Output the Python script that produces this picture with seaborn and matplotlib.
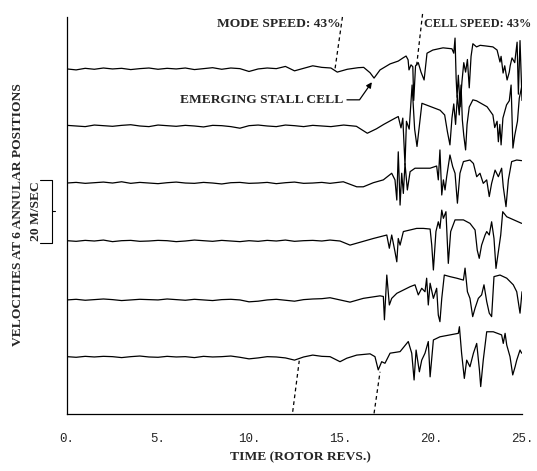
import matplotlib
matplotlib.use("Agg")
import matplotlib.pyplot as plt
import matplotlib.transforms as mtransforms
import pandas as pd
import seaborn as sns

# sample times of the quiet (pre-stall) part, rotor revs
quiet_t = [0.0, 0.5, 1.0, 1.5, 2.0, 2.5, 3.0, 3.5, 4.0, 4.5, 5.0, 5.5, 6.0, 6.5,
           7.0, 7.5, 8.0, 8.5, 9.0, 9.5, 10.0, 10.5, 11.0, 11.5, 12.0, 12.5,
           13.0, 13.5, 14.0]

# velocity deviation (m/s) from each probe's mean
pos1_quiet = [0.0, -0.3, 0.2, -0.1, 0.3, 0.0, 0.2, -0.2, 0.1, 0.3, -0.1, 0.2, 0.0, 0.3,
              -0.2, 0.1, 0.4, -0.1, 0.3, 0.1, -0.8, 0.0, 0.3, 0.1, 0.8, -0.6, 0.2, 1.0, 0.5]
pos2_quiet = [0.2, 0.0, -0.2, 0.3, 0.1, -0.1, 0.2, 0.4, 0.0, -0.2, 0.3, 0.1, -0.1, 0.2,
              0.0, -0.3, 0.2, 0.1, -0.2, -0.7, 0.1, 0.3, 0.0, -0.2, 0.3, 0.1, -0.2, 0.2, 0.0]
pos3_quiet = [0.0, 0.2, -0.1, 0.1, 0.3, 0.0, 0.4, -0.1, 0.2, 0.0, -0.2, 0.1, 0.3, 0.0,
              -0.1, 0.2, 0.0, -0.3, 0.1, 0.2, -0.1, 0.0, 0.2, -0.2, 0.1, 0.3, -0.1, 0.0, 0.2]
pos4_quiet = [0.1, -0.1, 0.2, 0.0, 0.3, -0.2, 0.1, 0.2, -0.1, 0.0, 0.2, 0.1, -0.2, 0.0,
              0.3, 0.1, -0.1, 0.2, 0.0, -0.2, 0.1, -0.1, 0.2, 0.0, 0.3, -0.1, 0.1, 0.2, 0.0]
pos5_quiet = [0.0, 0.2, -0.1, 0.1, 0.3, 0.1, -0.2, 0.0, 0.2, 0.1, 0.0, 0.3, 0.1, -0.1,
              0.2, 0.0, -0.2, 0.1, 0.2, 0.0, -0.6, -0.4, 0.0, 0.2, -0.1, -0.4, 0.1, 0.3, 0.4]
pos6_quiet = [0.1, -0.1, 0.2, 0.0, 0.2, 0.1, -0.2, 0.1, 0.3, 0.0, -0.1, 0.2, 0.0, 0.1,
              -0.2, 0.2, 0.0, 0.1, 0.3, -0.1, -0.6, -0.3, 0.1, 0.0, -0.3, -1.0, 0.0, 0.6, 0.2]

# (time, velocity deviation) through stall inception
pos1_stall = [(14.5, 0.3), (14.85, -1.0), (15.4, -0.1), (16.0, 0.4), (16.3, 0.5), (16.65, -1.2),
              (16.87, -2.9), (17.2, -0.3), (17.75, 1.6), (18.2, 2.5), (18.46, 3.5), (18.63, 4.1),
              (18.74, 2.9), (18.79, -0.3), (18.9, 1.3), (19.0, 0.7), (19.05, -10.0), (19.15, 1.0),
              (19.3, 2.0), (19.45, -1.0), (19.62, -3.5), (19.78, 5.0), (20.1, 6.0), (20.66, 6.7),
              (21.15, 6.4), (21.25, 5.0), (21.32, 9.8), (21.38, -3.0), (21.43, -9.0), (21.5, -2.0),
              (21.6, -12.0), (21.7, -4.0), (21.8, 2.0), (21.9, -1.0), (22.0, 3.0), (22.1, -6.0),
              (22.2, 4.0), (22.3, 8.0), (22.5, 7.0), (22.7, 7.5), (23.0, 7.3), (23.4, 7.0),
              (23.63, 6.0), (23.79, 2.2), (23.85, 4.0), (23.96, -1.3), (24.05, 1.0), (24.18, -3.5),
              (24.3, -1.0), (24.35, 1.0), (24.45, 3.5), (24.6, 2.0), (24.73, 8.5), (24.8, -8.0),
              (24.89, 9.0), (25.0, -10.0)]
pos2_stall = [(14.5, -0.2), (15.2, 0.3), (15.9, -0.1), (16.5, -2.3), (17.0, -0.9), (17.4, 0.5),
              (18.0, 2.4), (18.2, 3.0), (18.35, -0.6), (18.45, 2.5), (18.57, -12.4), (18.65, 1.5),
              (18.8, -1.0), (18.96, 13.0), (19.1, -1.0), (19.23, -6.5), (19.5, 7.2), (20.0, 6.1),
              (20.5, 5.0), (20.75, 3.5), (20.9, -1.8), (21.04, -6.0), (21.15, 2.5), (21.25, 7.0),
              (21.35, 0.5), (21.45, 9.8), (21.55, 3.5), (21.65, 13.0), (21.72, 2.0), (21.8, -3.0),
              (21.9, -7.6), (21.98, 0.5), (22.1, 6.0), (22.3, 8.3), (22.5, 8.0), (23.08, 6.1),
              (23.4, 3.5), (23.5, -0.5), (23.63, 1.5), (23.7, -5.0), (23.78, 0.5), (23.85, -6.0),
              (23.95, 2.5), (24.15, 6.7), (24.3, 8.0), (24.4, 13.0), (24.5, -7.0), (24.6, -3.0),
              (24.75, 1.5), (24.85, 8.8), (25.0, 13.0)]
pos3_stall = [(14.45, -0.1), (15.18, 0.4), (15.92, -1.2), (16.28, -1.2), (16.83, 0.1), (17.38, 1.0),
              (17.84, 3.1), (18.02, 1.0), (18.12, -5.4), (18.2, 9.9), (18.3, -7.0), (18.39, 3.1),
              (18.48, -3.3), (18.57, 6.2), (18.7, -2.2), (18.85, 3.6), (19.12, 4.7), (19.95, 4.7),
              (20.31, 5.4), (20.4, 1.0), (20.49, 10.5), (20.59, -3.8), (20.68, 1.0), (20.77, -2.2),
              (20.86, 2.0), (21.04, 8.9), (21.19, 5.2), (21.32, 3.1), (21.45, -6.4), (21.59, 3.1),
              (21.78, 6.8), (22.14, 7.3), (22.33, 6.2), (22.51, 2.0), (22.69, 3.1), (22.87, -0.1),
              (23.06, 1.0), (23.2, -4.3), (23.33, -0.1), (23.52, 4.1), (23.7, 2.0), (23.88, 4.7),
              (23.97, -1.2), (24.12, -7.5), (24.25, 1.0), (24.43, 6.8), (24.71, 7.3), (24.98, 7.1)]
pos4_stall = [(14.45, 0.3), (15.0, 0.0), (15.55, -1.3), (16.1, -0.4), (16.83, 0.8), (17.57, 1.9),
              (17.71, -2.3), (17.84, 1.9), (18.02, -3.4), (18.12, -6.6), (18.2, 0.8), (18.3, -1.3),
              (18.48, 3.0), (18.85, 3.5), (19.21, 4.0), (19.58, 4.0), (19.95, 3.8), (20.04, -1.3),
              (20.13, -9.2), (20.27, 3.0), (20.4, 6.1), (20.49, 4.0), (20.59, 9.8), (20.68, 7.2),
              (20.82, 9.3), (20.95, -7.1), (21.08, 3.0), (21.32, 6.7), (21.78, 6.7), (22.14, 5.6),
              (22.42, 3.5), (22.54, -2.9), (22.65, -5.5), (22.78, -1.3), (22.97, 1.9), (23.06, 3.0),
              (23.2, 1.9), (23.33, 6.1), (23.46, 0.8), (23.57, -8.7), (23.7, -3.4), (23.83, 1.9),
              (23.94, 9.3), (24.16, 7.7), (24.98, 5.6)]
pos5_stall = [(14.45, 0.7), (15.0, 0.0), (15.55, -0.7), (16.28, 0.5), (17.2, 1.3), (17.38, 1.1),
              (17.44, -6.3), (17.57, 7.9), (17.71, -1.6), (17.84, 0.5), (18.12, 2.1), (18.85, 4.2),
              (19.12, 4.8), (19.3, 1.6), (19.49, 3.7), (19.67, 2.6), (19.76, 6.9), (19.85, -1.6),
              (19.95, 5.3), (20.13, 0.5), (20.31, 3.7), (20.4, -4.8), (20.49, -6.9), (20.59, 0.5),
              (20.73, 7.9), (21.04, 7.4), (21.41, 6.9), (21.78, 6.3), (21.87, 10.1), (22.0, 2.6),
              (22.14, 0.5), (22.29, -5.3), (22.42, -2.6), (22.6, 0.5), (22.78, 1.6), (22.91, 4.8),
              (23.06, -0.5), (23.2, -4.2), (23.33, -5.3), (23.46, 7.4), (23.79, 7.9), (24.16, 6.9),
              (24.52, 4.8), (24.71, 2.6), (24.89, -4.2), (25.0, 2.6)]
pos6_stall = [(14.45, 0.1), (15.0, -1.5), (15.37, -0.4), (15.92, 0.6), (16.65, 1.0), (16.92, 0.1),
              (17.1, -4.1), (17.29, -1.5), (17.47, -2.0), (17.75, 1.2), (18.3, 1.7), (18.75, 4.9),
              (18.94, 1.2), (19.07, -7.3), (19.18, 2.2), (19.36, -4.7), (19.49, -1.0), (19.67, 1.2),
              (19.85, 4.9), (19.95, -6.3), (20.13, 5.4), (20.49, 6.4), (21.04, 7.0), (21.5, 7.5),
              (21.56, 9.6), (21.68, 1.2), (21.83, -6.8), (21.96, -1.0), (22.14, -3.1), (22.33, 1.2),
              (22.51, 4.3), (22.66, -4.1), (22.73, -9.4), (22.87, -1.0), (23.06, 8.0), (23.42, 8.0),
              (23.88, 7.0), (23.97, 4.3), (24.07, 7.5), (24.16, 3.8), (24.34, 0.1), (24.49, -5.7),
              (24.62, -3.1), (24.71, -1.0), (24.89, 2.2), (24.98, 1.2)]

# trace offsets on the chart (m/s above the time axis)
offsets = [109.5, 91.4, 73.3, 54.9, 36.2, 18.1]

# dashed propagation lines (time, y)
mode_top = [(14.73, 109.7), (15.15, 126.7)]
mode_bot = [(12.4, 0.7), (12.76, 16.9)]
cell_top = [(19.21, 110.6), (19.54, 127.2)]
cell_bot = [(16.87, 0.2), (17.2, 13.4)]

quiet = [pos1_quiet, pos2_quiet, pos3_quiet, pos4_quiet, pos5_quiet, pos6_quiet]
stall = [pos1_stall, pos2_stall, pos3_stall, pos4_stall, pos5_stall, pos6_stall]

rows = []
for i, (q, s, off) in enumerate(zip(quiet, stall, offsets)):
    for t, v in zip(quiet_t, q):
        rows.append((i + 1, t, v + off))
    for t, v in s:
        rows.append((i + 1, t, v + off))
df = pd.DataFrame(rows, columns=["position", "time", "velocity"])

sns.set_style("white")
serif = ["Liberation Serif", "DejaVu Serif"]
plt.rcParams["font.family"] = serif

fig = plt.figure(figsize=(5.37, 4.71), dpi=100)
ax = fig.add_axes([0.1248, 0.121, 0.8473, 0.843])

sns.lineplot(data=df, x="time", y="velocity", units="position", estimator=None,
             sort=False, color="black", lw=0.9, ax=ax, legend=False)

for seg in [mode_top, mode_bot, cell_top, cell_bot]:
    ax.plot([p[0] for p in seg], [p[1] for p in seg], color="black", lw=0.9,
            dashes=(3, 2.5), clip_on=False)

ax.set_xlim(0, 25)
ax.set_ylim(0, 126)
ax.set_xticks([0, 5, 10, 15, 20, 25])
ax.set_xticklabels(["0.", "5.", "10.", "15.", "20.", "25."],
                   family="Liberation Mono", fontsize=9)
ax.set_xticks([2.5, 7.5, 12.5, 17.5, 22.5], minor=True)
ax.set_yticks([])
ax.tick_params(axis="x", which="major", direction="out", length=5, width=0.9, pad=9)
ax.tick_params(axis="x", which="minor", direction="in", length=2.5, width=0.9)
for side in ["top", "right"]:
    ax.spines[side].set_visible(False)
for side in ["left", "bottom"]:
    ax.spines[side].set_linewidth(0.9)
    ax.spines[side].set_color("black")

ax.set_xlabel("")
ax.set_ylabel("")
bold = dict(fontweight="bold", fontsize=9.7, family=serif)
fig.text(0.56, 0.017, "TIME (ROTOR REVS.)", ha="center", va="bottom", **bold)
fig.text(0.034, 0.545, "VELOCITIES AT 6 ANNULAR POSITIONS", rotation=90,
         ha="center", va="center", **bold)

ax.text(15.05, 123.8, "MODE SPEED: 43%", ha="right", va="center", **bold)
ax.text(19.62, 123.8, "CELL SPEED: 43%", ha="left", va="center", clip_on=False,
        fontweight="bold", fontsize=8.8, family=serif)
ax.annotate("EMERGING STALL CELL", xy=(16.75, 105.3), xytext=(15.2, 99.7),
            ha="right", va="center",
            arrowprops=dict(arrowstyle="-|>", color="black", lw=0.9, mutation_scale=8,
                            shrinkA=0, shrinkB=0,
                            connectionstyle="angle,angleA=0,angleB=55,rad=0"),
            **bold)

# 20 m/s scale bracket left of the axis
trans = mtransforms.blended_transform_factory(ax.transAxes, ax.transData)
ax.plot([-0.059, -0.033, -0.033, -0.059], [74.3, 74.3, 54.3, 54.3], color="black",
        lw=0.8, transform=trans, clip_on=False)
ax.plot([-0.033, -0.026], [64.3, 64.3], color="black", lw=0.8, transform=trans, clip_on=False)
ax.text(-0.068, 64.3, "20 M/SEC", rotation=90, ha="center", va="center",
        transform=trans, **bold)

fig.savefig("out.png", dpi=100)
